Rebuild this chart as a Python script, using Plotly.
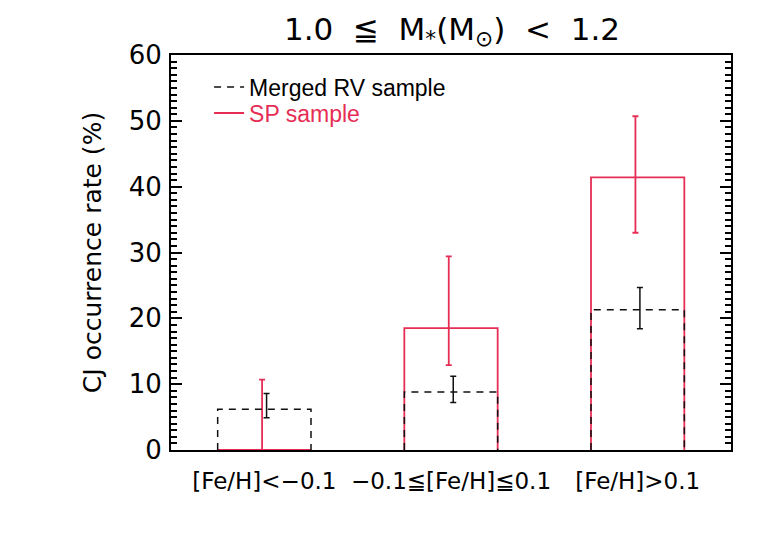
import plotly.graph_objects as go

# metallicity bins and occurrence rates (%)
categories = ["[Fe/H]<−0.1", "−0.1≦[Fe/H]≦0.1", "[Fe/H]>0.1"]
rv_rate = [6.2, 8.8, 21.3]
rv_err_plus = [2.4, 2.4, 3.4]
rv_err_minus = [1.3, 1.6, 2.9]
sp_rate = [0.0, 18.5, 41.4]
sp_err_plus = [10.7, 10.9, 9.3]
sp_err_minus = [0.0, 5.6, 8.4]

RED = "#E62E55"
BLACK = "#111111"
HALF_W = 0.25  # half bar width in bin units
FONT = "DejaVu Sans"


def outline(values):
    """Open-topped step outline (left side, top, right side) for each bin."""
    xs, ys = [], []
    for i, v in enumerate(values):
        xs += [i - HALF_W, i - HALF_W, i + HALF_W, i + HALF_W, None]
        ys += [0, v, v, 0, None]
    return xs, ys


fig = go.Figure()

x_sp, y_sp = outline(sp_rate)
fig.add_trace(go.Scatter(x=x_sp, y=y_sp, mode="lines",
                         line=dict(color=RED, width=1.8),
                         name='<span style="color:%s">SP sample</span>' % RED,
                         legend="legend2"))
fig.add_trace(go.Scatter(x=[i - 0.012 for i in range(len(sp_rate))], y=sp_rate,
                         mode="markers", marker=dict(size=1, color="rgba(0,0,0,0)"),
                         error_y=dict(type="data", symmetric=False, array=sp_err_plus,
                                      arrayminus=sp_err_minus, color=RED,
                                      thickness=1.8, width=3),
                         showlegend=False))

x_rv, y_rv = outline(rv_rate)
fig.add_trace(go.Scatter(x=x_rv, y=y_rv, mode="lines",
                         line=dict(color=BLACK, width=1.5, dash="7px,6px"),
                         name="Merged RV sample", legend="legend"))
fig.add_trace(go.Scatter(x=[i + 0.012 for i in range(len(rv_rate))], y=rv_rate,
                         mode="markers", marker=dict(size=1, color="rgba(0,0,0,0)"),
                         error_y=dict(type="data", symmetric=False, array=rv_err_plus,
                                      arrayminus=rv_err_minus, color=BLACK,
                                      thickness=1.5, width=3),
                         showlegend=False))

# page body adds an 8px offset, margins are reduced accordingly
legend_style = dict(xanchor="left", yanchor="middle", bgcolor="rgba(0,0,0,0)",
                    font=dict(size=23, family="Liberation Sans"), itemwidth=30)
fig.update_layout(
    width=783, height=559,
    margin=dict(l=163, r=60, t=47, b=117),
    paper_bgcolor="white", plot_bgcolor="white",
    font=dict(family=FONT, color="black"),
    title=dict(text="1.0  ≦  M<sub>*</sub>(M<sub>⊙</sub>)  <  1.2",
               x=0.567, xanchor="center", y=0.963, yanchor="middle",
               font=dict(size=31, family=FONT)),
    legend=dict(x=0.068, y=0.919, **legend_style),
    legend2=dict(x=0.068, y=0.853, **legend_style),
    showlegend=True,
)
fig.update_xaxes(range=[-0.5, 2.5], tickvals=list(range(len(categories))),
                 ticktext=categories, ticks="", showgrid=False, zeroline=False,
                 showline=True, mirror=True, linecolor="black", linewidth=2,
                 ticklabelstandoff=9,
                 tickfont=dict(size=23, family=FONT))
fig.update_yaxes(range=[0, 60], dtick=10, ticks="inside", ticklen=11, tickwidth=2,
                 tickcolor="black", minor=dict(dtick=1, ticks="inside", ticklen=6,
                                               tickwidth=2, tickcolor="black"),
                 showgrid=False, zeroline=False, showline=True, mirror="ticks",
                 linecolor="black", linewidth=2, ticklabelstandoff=2,
                 tickfont=dict(size=26, family=FONT),
                 title=dict(text="CJ occurrence rate (%)", standoff=20,
                            font=dict(size=25, family=FONT)))

fig.write_html("out.html")
